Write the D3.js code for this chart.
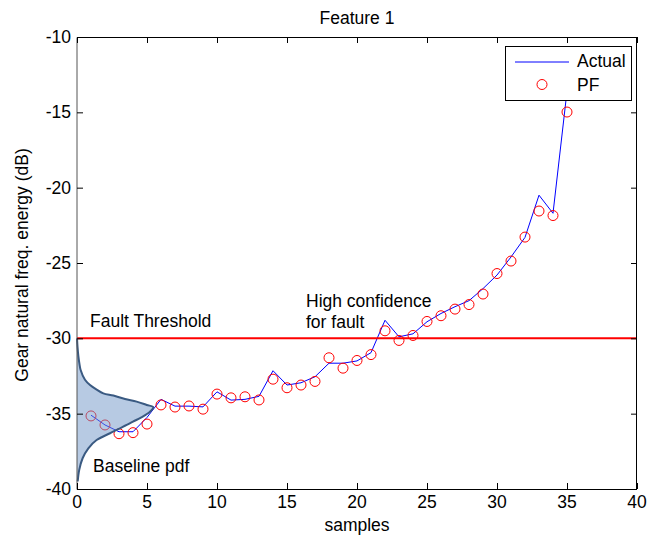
<!DOCTYPE html>
<html>
<head>
<meta charset="utf-8">
<script src="https://cdn.jsdelivr.net/npm/d3@7"></script>
<style>
  body { margin: 0; background: #fff; }
  svg { font-family: "Liberation Sans", Arial, sans-serif; }
</style>
</head>
<body>
<svg id="chart" width="665" height="538"></svg>
<script>
// samples 1..35
const samples = d3.range(1, 36);

// "Actual" feature trace (dB)
const actual = [
  -35.1, -35.75, -36.2, -36.2, -35.25, -34.05, -34.5, -34.5, -34.55, -33.55,
  -34.1, -34.05, -33.85, -32.15, -33.1, -32.95, -32.55, -31.65, -31.65, -31.5,
  -30.95, -28.8, -29.9, -29.7, -28.9, -28.35, -27.9, -27.5, -26.7, -25.8,
  -24.6, -23.3, -20.5, -21.7, -13.6
];

// particle filter estimate (dB)
const pf = [
  -35.15, -35.75, -36.33, -36.26, -35.69, -34.42, -34.56, -34.49, -34.7, -33.7,
  -33.95, -33.88, -34.09, -32.71, -33.28, -33.1, -32.86, -31.29, -31.98, -31.47,
  -31.08, -29.5, -30.14, -29.81, -28.88, -28.5, -28.06, -27.76, -27.06, -25.7,
  -24.87, -23.28, -21.55, -21.85, -14.98
];

// baseline pdf outline: level (dB) and width (in samples)
const pdfLevel = [-30, -30.6, -31.2, -31.66, -32.1, -32.75, -33.1, -33.4, -33.65, -33.8,
  -34.03, -34.2, -34.42, -34.57, -34.87, -35.24, -35.53, -35.75, -36.02, -36.3,
  -36.75, -37.3, -37.96, -38.73, -39.5];
const pdfWidth = [0, 0.04, 0.1, 0.17, 0.26, 0.57, 0.93, 1.4, 1.88, 2.6,
  3.43, 4.26, 4.98, 5.45, 5.21, 4.6, 4.0, 3.55, 2.95, 2.36,
  1.4, 0.81, 0.4, 0.16, 0.05];

const threshold = -30;
const xTicks = d3.range(0, 41, 5);
const yTicks = d3.range(-40, -9, 5);

const svg = d3.select('#chart');
const pLeft = 77, pRight = 637, pTop = 37, pBottom = 489;

const x = d3.scaleLinear().domain([0, 40]).range([pLeft, pRight]);
const y = d3.scaleLinear().domain([-40, -10]).range([pBottom, pTop]);

const fontSize = 17.5;

// data line
const line = d3.line()
  .x((d, i) => x(samples[i]))
  .y(d => y(d));

svg.append('path')
  .datum(actual)
  .attr('d', line)
  .attr('fill', 'none')
  .attr('stroke', '#0000ff')
  .attr('stroke-width', 1);

svg.selectAll('circle.pf')
  .data(pf)
  .enter()
  .append('circle')
  .attr('class', 'pf')
  .attr('cx', (d, i) => x(samples[i]))
  .attr('cy', d => y(d))
  .attr('r', 5)
  .attr('fill', 'none')
  .attr('stroke', '#ff0000')
  .attr('stroke-width', 1);

// baseline pdf (drawn over the data, semi transparent like the original)
const pdfPts = pdfLevel.map((v, i) => ({ v, w: pdfWidth[i] }));
const pdfCurve = d3.curveCatmullRom.alpha(0.5);

const area = d3.area()
  .curve(pdfCurve)
  .y(d => y(d.v))
  .x0(x(0))
  .x1(d => x(d.w));

svg.append('path')
  .datum(pdfPts)
  .attr('d', area)
  .attr('fill', '#6f96c8')
  .attr('fill-opacity', 0.5);

svg.append('path')
  .datum(pdfPts)
  .attr('d', d3.line().curve(pdfCurve).x(d => x(d.w)).y(d => y(d.v)))
  .attr('fill', 'none')
  .attr('stroke', '#3a5a82')
  .attr('stroke-width', 2);

// fault threshold
svg.append('line')
  .attr('x1', x(0)).attr('x2', x(40))
  .attr('y1', y(threshold)).attr('y2', y(threshold))
  .attr('stroke', '#ff0000')
  .attr('stroke-width', 2);

// axes box, ticks inside on all four sides
const tickLen = 6;
const axisG = svg.append('g');

axisG.append('path')
  .attr('d', `M${pLeft},${pTop + 0.5}H${pRight - 0.5}V${pBottom + 0.5}H${pLeft}`)
  .attr('fill', 'none')
  .attr('stroke', '#000');
axisG.append('line')
  .attr('x1', pLeft).attr('x2', pLeft)
  .attr('y1', pTop + 0.5).attr('y2', pBottom + 0.5)
  .attr('stroke', '#555');

xTicks.forEach(t => {
  axisG.append('line')
    .attr('x1', x(t) + 0.5).attr('x2', x(t) + 0.5)
    .attr('y1', pBottom).attr('y2', pBottom - tickLen)
    .attr('stroke', '#000');
  axisG.append('line')
    .attr('x1', x(t) + 0.5).attr('x2', x(t) + 0.5)
    .attr('y1', pTop).attr('y2', pTop + tickLen)
    .attr('stroke', '#000');
  axisG.append('text')
    .attr('x', x(t)).attr('y', 508)
    .attr('text-anchor', 'middle')
    .style('font-size', fontSize)
    .text(t);
});

yTicks.forEach(t => {
  axisG.append('line')
    .attr('x1', pLeft).attr('x2', pLeft + tickLen)
    .attr('y1', y(t) + 0.5).attr('y2', y(t) + 0.5)
    .attr('stroke', '#000');
  axisG.append('line')
    .attr('x1', pRight).attr('x2', pRight - tickLen)
    .attr('y1', y(t) + 0.5).attr('y2', y(t) + 0.5)
    .attr('stroke', '#000');
  axisG.append('text')
    .attr('x', 71).attr('y', y(t) + 6)
    .attr('text-anchor', 'end')
    .style('font-size', fontSize)
    .text(t);
});

// titles
svg.append('text')
  .attr('x', (pLeft + pRight) / 2).attr('y', 24)
  .attr('text-anchor', 'middle')
  .style('font-size', fontSize)
  .text('Feature 1');

svg.append('text')
  .attr('x', (pLeft + pRight) / 2).attr('y', 531)
  .attr('text-anchor', 'middle')
  .style('font-size', fontSize)
  .text('samples');

svg.append('text')
  .attr('transform', `translate(28, ${(pTop + pBottom) / 2 + 2}) rotate(-90)`)
  .attr('text-anchor', 'middle')
  .style('font-size', fontSize)
  .text('Gear natural freq. energy (dB)');

// annotations
const notes = [
  { t: 'Fault Threshold', x: 90, y: 327 },
  { t: 'High confidence', x: 306, y: 307 },
  { t: 'for fault', x: 306, y: 328 },
  { t: 'Baseline pdf', x: 93, y: 472 }
];
svg.selectAll('text.note')
  .data(notes)
  .enter()
  .append('text')
  .attr('class', 'note')
  .attr('x', d => d.x).attr('y', d => d.y)
  .style('font-size', fontSize)
  .text(d => d.t);

// legend
const lg = svg.append('g');
lg.append('rect')
  .attr('x', 505.5).attr('y', 46.5)
  .attr('width', 126).attr('height', 54)
  .attr('fill', '#fff')
  .attr('stroke', '#000');
lg.append('line')
  .attr('x1', 515).attr('x2', 569)
  .attr('y1', 62).attr('y2', 62)
  .attr('stroke', '#0000ff');
lg.append('circle')
  .attr('cx', 542).attr('cy', 84.5).attr('r', 5)
  .attr('fill', 'none').attr('stroke', '#ff0000');
lg.append('text')
  .attr('x', 577).attr('y', 67)
  .style('font-size', fontSize)
  .text('Actual');
lg.append('text')
  .attr('x', 577).attr('y', 91)
  .style('font-size', fontSize)
  .text('PF');
</script>
</body>
</html>
